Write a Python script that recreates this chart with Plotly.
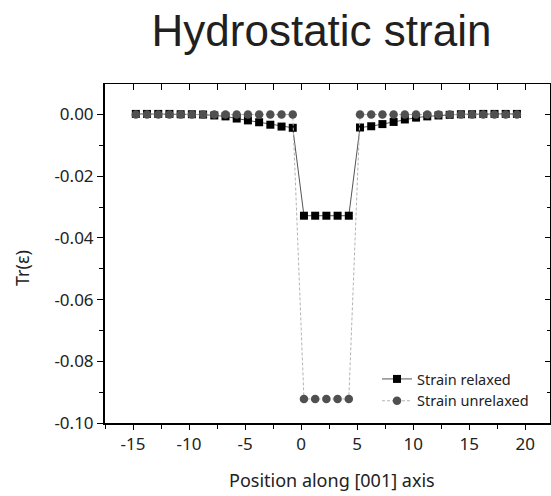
import plotly.graph_objects as go

# ---- data ----
positions = [-14.75 + i for i in range(35)]

strain_relaxed = [
    0.0002, 0.0002, 0.0002, 0.0002, 0.0001, 0.0001, 0.0000, -0.0003,
    -0.0006, -0.0013, -0.0019, -0.0025, -0.0033, -0.0039, -0.0043,
    -0.0328, -0.0328, -0.0328, -0.0328, -0.0328,
    -0.0042, -0.0038, -0.0031, -0.0024, -0.0016, -0.0010, -0.0006,
    -0.0003, -0.0001, 0.0001, 0.0001, 0.0002, 0.0002, 0.0002, 0.0002,
]

strain_unrelaxed = [0.0] * 15 + [-0.0922] * 5 + [0.0] * 15

x_tickvals = [-15, -10, -5, 0, 5, 10, 15, 20]
x_ticktext = ["-15", "-10", "-5", "0", "5", "10", "15", "20"]
y_tickvals = [0.0, -0.02, -0.04, -0.06, -0.08, -0.10]
y_ticktext = ["0.00", "-0.02", "-0.04", "-0.06", "-0.08", "-0.10"]

title_text = "Hydrostatic strain"
x_title = "Position along [001] axis"
y_title = "Tr(ε)"

W, H = 551, 496
L, R, T, B = 105, 1, 84, 73
XR = [-17.5, 22.2]
YR = [-0.10, 0.0099]
TICKFONT = dict(family="Noto Sans", size=17, color="#222222")

fig = go.Figure()

fig.add_trace(go.Scatter(
    x=positions, y=strain_relaxed, mode="lines+markers", name="Strain relaxed",
    line=dict(color="#555555", width=1),
    marker=dict(symbol="square", size=8, color="#000000"),
))
fig.add_trace(go.Scatter(
    x=positions, y=strain_unrelaxed, mode="lines+markers", name="Strain unrelaxed",
    line=dict(color="#b4b4b4", width=1, dash="3px,2px"),
    marker=dict(symbol="circle", size=8.5, color="#505050"),
))
# helper trace to instantiate mirrored axes
fig.add_trace(go.Scatter(x=[None], y=[None], xaxis="x2", yaxis="y2",
                         showlegend=False, hoverinfo="skip"))

fig.update_layout(
    width=W, height=H,
    margin=dict(l=L, r=R, t=T, b=B, pad=0),
    paper_bgcolor="white", plot_bgcolor="white",
    title=dict(text=title_text, font=dict(family="Liberation Sans", size=44, color="#231f20"),
               xref="container", x=321.5 / W, xanchor="center",
               yref="container", y=1 - 31 / H, yanchor="middle"),
    xaxis=dict(range=XR, tickvals=x_tickvals, ticktext=x_ticktext,
               showgrid=False, zeroline=False, showline=True, linecolor="black", linewidth=2,
               ticks="outside", ticklen=5, tickwidth=1, tickcolor="black",
               minor=dict(ticks="outside", ticklen=4, dtick=2.5, tick0=0, tickcolor="black", showgrid=False),
               tickfont=TICKFONT),
    yaxis=dict(range=YR, tickvals=y_tickvals, ticktext=y_ticktext,
               showgrid=False, zeroline=False, showline=True, linecolor="black", linewidth=2,
               ticks="outside", ticklen=6, tickwidth=1, tickcolor="black",
               minor=dict(ticks="outside", ticklen=4, dtick=0.01, tick0=0, tickcolor="black", showgrid=False),
               tickfont=TICKFONT),
    xaxis2=dict(range=XR, overlaying="x", side="top", anchor="y", showticklabels=False,
                tickvals=x_tickvals, showgrid=False, zeroline=False, showline=True,
                linecolor="black", linewidth=1, ticks="inside", ticklen=6, tickcolor="black",
                minor=dict(ticks="inside", ticklen=6, dtick=2.5, tick0=0, tickcolor="black", showgrid=False)),
    yaxis2=dict(range=YR, overlaying="y", side="right", anchor="x2", showticklabels=False,
                tickvals=y_tickvals, showgrid=False, zeroline=False, showline=True,
                linecolor="black", linewidth=1, ticks="inside", ticklen=5, tickcolor="black",
                minor=dict(ticks="inside", ticklen=3, dtick=0.01, tick0=0, tickcolor="black", showgrid=False)),
    legend=dict(x=(377 - L) / (W - L - R), y=(H - B - 363) / (H - B - T),
                xanchor="left", yanchor="top", traceorder="normal",
                font=dict(family="Noto Sans", size=14.5, color="#222222"),
                bgcolor="rgba(0,0,0,0)", tracegroupgap=0, itemwidth=30),
    showlegend=True,
    annotations=[
        dict(text=x_title, xref="paper", yref="paper",
             x=(332 - L) / (W - L - R), y=-(480 - (H - B)) / (H - B - T),
             xanchor="center", yanchor="middle", showarrow=False,
             font=dict(family="Noto Sans", size=18, color="#222222")),
        dict(text=y_title, xref="paper", yref="paper",
             x=(22 - L) / (W - L - R), y=(H - B - 268) / (H - B - T),
             xanchor="center", yanchor="middle", showarrow=False, textangle=-90,
             font=dict(family="Noto Sans", size=18, color="#222222")),
    ],
)

fig.write_html("out.html")
